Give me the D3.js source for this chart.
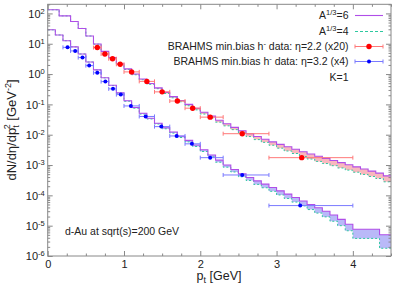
<!DOCTYPE html>
<html>
<head>
<meta charset="utf-8">
<script src="https://cdn.jsdelivr.net/npm/d3@7"></script>
<style>
body { margin: 0; background: #fff; }
text { font-family: "Liberation Sans", Arial, sans-serif; fill: #222; }
</style>
</head>
<body>
<div id="chart"></div>
<script>
// bin edges of the two histograms (GeV)
var edgesHi = [0, 0.15, 0.3, 0.4, 0.5, 0.6, 0.7, 0.8, 0.9, 1.0, 1.1, 1.2, 1.3, 1.4, 1.5, 1.6, 1.7, 1.8, 1.9, 2.0,
  2.1, 2.2, 2.3, 2.4, 2.5, 2.6, 2.7, 2.8, 2.9, 3.0, 3.1, 3.2, 3.3, 3.4, 3.5, 3.6, 3.7, 3.8, 3.9, 4.0,
  4.1, 4.2, 4.3, 4.4, 4.5];
var edgesLo = [0, 0.1, 0.2, 0.3, 0.4, 0.5, 0.6, 0.7, 0.8, 0.9, 1.0, 1.1, 1.2, 1.3, 1.4, 1.5, 1.6, 1.7, 1.8, 1.9, 2.0,
  2.1, 2.2, 2.3, 2.4, 2.5, 2.6, 2.7, 2.8, 2.9, 3.0, 3.1, 3.2, 3.3, 3.4, 3.5, 3.6, 3.7, 3.8, 3.9, 4.0,
  4.35, 4.5];

// eta=2.2 (x20) calculation
var a6Hi = [132, 83, 54, 32, 18, 9.8, 5.6, 3.5, 2.2, 1.48, 1.0, 0.69, 0.49, 0.35, 0.25, 0.18, 0.135, 0.10, 0.074, 0.055,
  0.041, 0.030, 0.023, 0.0174, 0.0135, 0.0107, 0.0087, 0.0071, 0.0058, 0.0048, 0.0040, 0.0033, 0.00275, 0.0023, 0.00195,
  0.00166, 0.00141, 0.0012, 0.00102, 0.00087, 0.00074, 0.00063, 0.00054, 0.00044];
var a4Hi = [132, 83, 54, 32, 18, 9.7, 5.5, 3.4, 2.1, 1.42, 0.95, 0.65, 0.46, 0.33, 0.23, 0.165, 0.122, 0.090, 0.066, 0.048,
  0.036, 0.026, 0.0196, 0.0147, 0.0112, 0.0087, 0.0069, 0.0056, 0.0045, 0.0036, 0.0029, 0.0024, 0.0019, 0.00158, 0.00132,
  0.00112, 0.00095, 0.00080, 0.00068, 0.00058, 0.00049, 0.00042, 0.00036, 0.00028];
// eta=3.2 (x4) calculation
var a6Lo = [28.8, 19.5, 12.6, 7.9, 4.6, 2.5, 1.38, 0.76, 0.43, 0.24, 0.132, 0.079, 0.051, 0.035, 0.024, 0.017, 0.0123, 0.0089,
  0.0065, 0.0046, 0.0032, 0.00214, 0.00145, 0.0010, 0.00071, 0.00051, 0.00039, 0.00030, 0.000234, 0.000182, 0.000141,
  0.000110, 0.000085, 0.000065, 0.000050, 0.000039, 0.000030, 0.0000224, 0.0000162, 0.0000112, 0.0000076, 0.0000050];
var a4Lo = [28.8, 19.5, 12.6, 7.9, 4.6, 2.5, 1.37, 0.75, 0.42, 0.235, 0.127, 0.075, 0.048, 0.033, 0.0225, 0.0157, 0.0113, 0.0081,
  0.0058, 0.0041, 0.0028, 0.00185, 0.00124, 0.00085, 0.00059, 0.00041, 0.00031, 0.00023, 0.000178, 0.000136, 0.000103,
  0.000079, 0.000060, 0.000045, 0.000034, 0.000026, 0.0000195, 0.0000140, 0.0000100, 0.0000068, 0.0000038, 0.0000018];

// BRAHMS data
var redPt = [0.65, 0.75, 0.85, 0.95, 1.1, 1.3, 1.5, 1.7, 1.9, 2.13, 2.55, 3.33];
var redLo = [0.6, 0.7, 0.8, 0.9, 1.0, 1.2, 1.4, 1.6, 1.8, 2.0, 2.3, 2.9];
var redHi = [0.7, 0.8, 0.9, 1.0, 1.2, 1.4, 1.6, 1.8, 2.0, 2.3, 2.9, 4.0];
var redVal = [7.5, 4.6, 3.2, 2.1, 1.18, 0.574, 0.259, 0.129, 0.075, 0.038, 0.0108, 0.00175];

var bluePt = [0.26, 0.36, 0.456, 0.544, 0.65, 0.756, 0.856, 0.958, 1.09, 1.284, 1.489, 1.69, 1.89, 2.13, 2.55, 3.31];
var blueLo = [0.2, 0.3, 0.4, 0.5, 0.6, 0.7, 0.8, 0.9, 1.0, 1.2, 1.4, 1.6, 1.8, 2.0, 2.3, 2.9];
var blueHi = [0.3, 0.4, 0.5, 0.6, 0.7, 0.8, 0.9, 1.0, 1.2, 1.4, 1.6, 1.8, 2.0, 2.3, 2.9, 4.0];
var blueVal = [7.6, 5.8, 3.5, 1.9, 1.1, 0.565, 0.325, 0.21, 0.089, 0.040, 0.0185, 0.0091, 0.0050, 0.00175, 0.00047, 0.000046];

var xTicks = [0, 1, 2, 3, 4];
var yExp = [-6, -5, -4, -3, -2, -1, 0, 1, 2];

(function () {
var W = 399, H = 285;
var mL = 47.7, mR = 391, mT = 4.3, mB = 256;
var purple = "#b04ee8", teal = "#2ec8a0";

var svg = d3.select("#chart").append("svg")
  .attr("width", W).attr("height", H);

var x = d3.scaleLinear().domain([0, 4.5]).range([mL, mR]);
var y = d3.scaleLog().domain([1e-6, 200]).range([mB, mT]);

function steps(edges, vals) {
  return edges.map(function (e, i) { return { x: e, v: vals[Math.min(i, vals.length - 1)] }; });
}
function bandData(edges, p, t) {
  return edges.map(function (e, i) {
    var k = Math.min(i, p.length - 1);
    return { x: e, p: p[k], t: t[k] };
  });
}

var line = d3.line().x(function (d) { return x(d.x); }).y(function (d) { return y(d.v); }).curve(d3.curveStepAfter);
var area = d3.area().x(function (d) { return x(d.x); })
  .y0(function (d) { return y(d.t); }).y1(function (d) { return y(d.p); })
  .curve(d3.curveStepAfter);

var plot = svg.append("g");

// shaded bands between the two A^1/3 curves
plot.append("path").datum(bandData(edgesHi, a6Hi, a4Hi))
  .attr("d", area).attr("fill", "#f7a0a8").attr("opacity", 0.75);
plot.append("path").datum(bandData(edgesLo, a6Lo, a4Lo))
  .attr("d", area).attr("fill", "#a8a8f6").attr("opacity", 0.8);

[[edgesHi, a4Hi], [edgesLo, a4Lo]].forEach(function (s) {
  plot.append("path").datum(steps(s[0], s[1])).attr("d", line)
    .attr("fill", "none").attr("stroke", teal).attr("stroke-width", 1).attr("stroke-dasharray", "2,2");
});
[[edgesHi, a6Hi], [edgesLo, a6Lo]].forEach(function (s) {
  plot.append("path").datum(steps(s[0], s[1])).attr("d", line)
    .attr("fill", "none").attr("stroke", purple).attr("stroke-width", 1.1);
});

// data points with x-error bars
function points(pt, lo, hi, val, barCol, dotCol, r) {
  var g = plot.append("g");
  var d = pt.map(function (p, i) { return { p: p, lo: lo[i], hi: hi[i], v: val[i] }; });
  g.selectAll(".bar").data(d).enter().append("line")
    .attr("x1", function (d) { return x(d.lo); }).attr("x2", function (d) { return x(d.hi); })
    .attr("y1", function (d) { return y(d.v); }).attr("y2", function (d) { return y(d.v); })
    .attr("stroke", barCol).attr("stroke-width", 1);
  ["lo", "hi"].forEach(function (k) {
    g.selectAll(".cap" + k).data(d).enter().append("line")
      .attr("x1", function (d) { return x(d[k]); }).attr("x2", function (d) { return x(d[k]); })
      .attr("y1", function (d) { return y(d.v) - 2; }).attr("y2", function (d) { return y(d.v) + 2; })
      .attr("stroke", barCol).attr("stroke-width", 1);
  });
  g.selectAll("circle").data(d).enter().append("circle")
    .attr("cx", function (d) { return x(d.p); }).attr("cy", function (d) { return y(d.v); })
    .attr("r", r).attr("fill", dotCol);
}
points(redPt, redLo, redHi, redVal, "#ff7878", "#ff0000", 2.7);
points(bluePt, blueLo, blueHi, blueVal, "#7a7aff", "#0000ff", 2);

// axes: inward ticks on all four sides
var axCol = "#888";
var minorY = [];
yExp.forEach(function (e) {
  for (var m = 2; m <= 9; m++) { var v = m * Math.pow(10, e); if (v <= 200) minorY.push(v); }
});
var minorX = d3.range(0, 4.51, 0.25).filter(function (v) { return v % 1 !== 0; });
var majY = yExp.map(function (e) { return Math.pow(10, e); });

function tickAxis(axis, tx, ty) {
  var g = svg.append("g").attr("transform", "translate(" + tx + "," + ty + ")").call(axis);
  g.select(".domain").remove();
  g.selectAll("line").attr("stroke", axCol);
  return g;
}
tickAxis(d3.axisLeft(y).tickValues(minorY).tickSize(-2.5).tickFormat(""), mL, 0);
tickAxis(d3.axisRight(y).tickValues(minorY).tickSize(-2.5).tickFormat(""), mR, 0);
tickAxis(d3.axisRight(y).tickValues(majY).tickSize(-5).tickFormat(""), mR, 0);
tickAxis(d3.axisBottom(x).tickValues(minorX).tickSize(-2.5).tickFormat(""), 0, mB);
tickAxis(d3.axisTop(x).tickValues(minorX).tickSize(-2.5).tickFormat(""), 0, mT);
tickAxis(d3.axisTop(x).tickValues(xTicks).tickSize(-5).tickFormat(""), 0, mT);

var yAx = tickAxis(d3.axisLeft(y).tickValues(majY).tickSize(-5).tickPadding(3), mL, 0);
yAx.selectAll("text").each(function (d) {
  var t = d3.select(this).text("").attr("font-size", 11).attr("dy", "0.35em")
    .attr("font-family", "Liberation Sans, Arial, sans-serif").attr("fill", "#222");
  t.append("tspan").text("10");
  t.append("tspan").attr("font-size", 7.5).attr("dy", "-0.55em").text(Math.round(Math.log10(d)));
});
var xAx = tickAxis(d3.axisBottom(x).tickValues(xTicks).tickSize(-5).tickPadding(4).tickFormat(d3.format("d")), 0, mB);
xAx.selectAll("text").attr("font-size", 11).attr("fill", "#222")
  .attr("font-family", "Liberation Sans, Arial, sans-serif");

svg.append("rect").attr("x", mL).attr("y", mT)
  .attr("width", mR - mL).attr("height", mB - mT)
  .attr("fill", "none").attr("stroke", axCol).attr("stroke-width", 1);

// axis titles
var xl = svg.append("text").attr("x", 219).attr("y", 280).attr("text-anchor", "middle").attr("font-size", 12.5);
xl.append("tspan").text("p");
xl.append("tspan").attr("font-size", 9).attr("dy", 3).text("t");
xl.append("tspan").attr("dy", -3).text(" [GeV]");

var yl = svg.append("text").attr("transform", "translate(16,130) rotate(-90)")
  .attr("text-anchor", "middle").attr("font-size", 13);
yl.append("tspan").text("dN/d\u03b7/dp");
yl.append("tspan").attr("font-size", 9).attr("dy", 3).text("t");
yl.append("tspan").attr("font-size", 9).attr("dx", -4).attr("dy", -9).text("2");
yl.append("tspan").attr("dy", 6).text(" [GeV");
yl.append("tspan").attr("font-size", 9).attr("dy", -5).text("-2");
yl.append("tspan").attr("dy", 5).text("]");

svg.append("text").attr("x", 65).attr("y", 234.5).attr("font-size", 10.5).text("d-Au at sqrt(s)=200 GeV");

// legend
var lx = 348.5, ls = 355, le = 383;
var rows = [15.5, 31.5, 46.5, 61.5, 77.5];
function legText(yy) {
  return svg.append("text").attr("x", lx).attr("y", yy + 3.8).attr("text-anchor", "end").attr("font-size", 10.5);
}
[0, 1].forEach(function (i) {
  var t = legText(rows[i]);
  t.append("tspan").text("A");
  t.append("tspan").attr("font-size", 7.5).attr("dy", -4.5).text("1/3");
  t.append("tspan").attr("dy", 4.5).text(i === 0 ? "=6" : "=4");
});
svg.append("line").attr("x1", ls).attr("x2", le).attr("y1", rows[0]).attr("y2", rows[0])
  .attr("stroke", purple).attr("stroke-width", 1.1);
svg.append("line").attr("x1", ls).attr("x2", le).attr("y1", rows[1]).attr("y2", rows[1])
  .attr("stroke", teal).attr("stroke-width", 1).attr("stroke-dasharray", "3,2");
[[2, "2.2 (x20)", "#ff7878", "#ff0000", 2.7], [3, "3.2 (x4)", "#7a7aff", "#0000ff", 2]].forEach(function (r) {
  var yy = rows[r[0]];
  var t = legText(yy);
  t.append("tspan").text("BRAHMS min.bias h");
  t.append("tspan").attr("font-size", 7.5).attr("dy", -4.5).text("-");
  t.append("tspan").attr("dy", 4.5).text(" data: \u03b7=" + r[1]);
  svg.append("line").attr("x1", ls).attr("x2", le).attr("y1", yy).attr("y2", yy).attr("stroke", r[2]);
  [ls, le].forEach(function (cx) {
    svg.append("line").attr("x1", cx).attr("x2", cx).attr("y1", yy - 2).attr("y2", yy + 2).attr("stroke", r[2]);
  });
  svg.append("circle").attr("cx", (ls + le) / 2).attr("cy", yy).attr("r", r[4]).attr("fill", r[3]);
});
legText(rows[4]).text("K=1");
})();
</script>
</body>
</html>
